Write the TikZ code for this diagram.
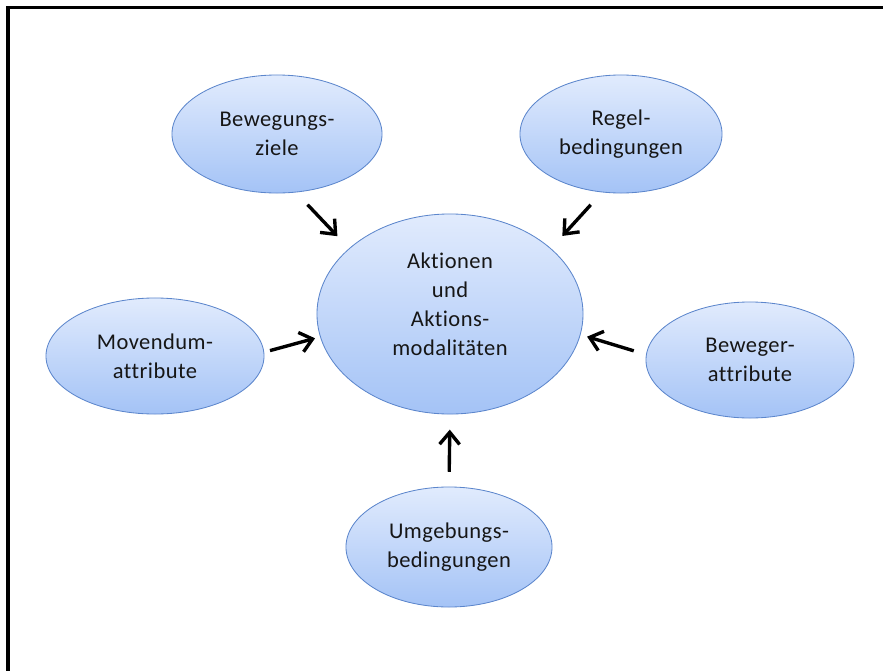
\documentclass[tikz,border=0pt]{standalone}
\usepackage{fontspec}
\setmainfont{Carlito}[Ligatures=NoCommon, LetterSpace=2]
\usetikzlibrary{arrows.meta,shapes.geometric}
\definecolor{bubbleline}{RGB}{92,134,204}
\definecolor{bubbletop}{RGB}{225,235,253}
\definecolor{bubblebot}{RGB}{164,195,246}
\definecolor{labelgray}{RGB}{22,22,22}
\tikzset{
  bubble/.style={ellipse, draw=bubbleline, line width=0.6pt, top color=bubbletop,
    bottom color=bubblebot, align=center, inner sep=0pt, text=labelgray,
    font=\fontsize{16}{20.5}\selectfont},
  flow/.style={-{Straight Barb[length=3mm,width=5mm]}, line width=2.4pt,
    shorten <=0.42cm, shorten >=0.42cm}
}

\begin{document}
\begin{tikzpicture}[x=0.025cm, y=-0.025cm]
        \useasboundingbox (0,0) rectangle (883,671);
        \draw[line width=0.075cm] (8,671) -- (8,7) -- (883,7);
        \node[bubble, minimum width=6.65cm, minimum height=5cm, text depth=0.5cm] (main) at (450,314) {Aktionen\\und\\Aktions-\\modalitäten};
        \node[bubble, minimum width=5.25cm, minimum height=2.95cm] (ziele) at (277,134) {Bewegungs-\\ziele};
        \node[bubble, minimum width=5.05cm, minimum height=2.95cm] (regel) at (621,134) {Regel-\\bedingungen};
        \node[bubble, minimum width=5.45cm, minimum height=2.9cm] (movendum) at (155,356) {Movendum-\\attribute};
        \node[bubble, minimum width=5.2cm, minimum height=2.9cm] (beweger) at (750,360) {Beweger-\\attribute};
        \node[bubble, minimum width=5.15cm, minimum height=3cm] (umgebung) at (449,547) {Umgebungs-\\bedingungen};
        \draw[flow] (ziele.-72) -- (main.147);
        \draw[flow] (regel.-108) -- (main.33);
        \draw[flow, shorten <=0.15cm, shorten >=0.13cm] (movendum.2) -- (main.-170);
        \draw[flow, shorten <=0.32cm, shorten >=0.17cm] (beweger.177) -- (main.-9);
        \draw[flow, shorten <=0.37cm, shorten >=0.38cm] (umgebung.north) -- (main.south);
    \end{tikzpicture}
\end{document}
